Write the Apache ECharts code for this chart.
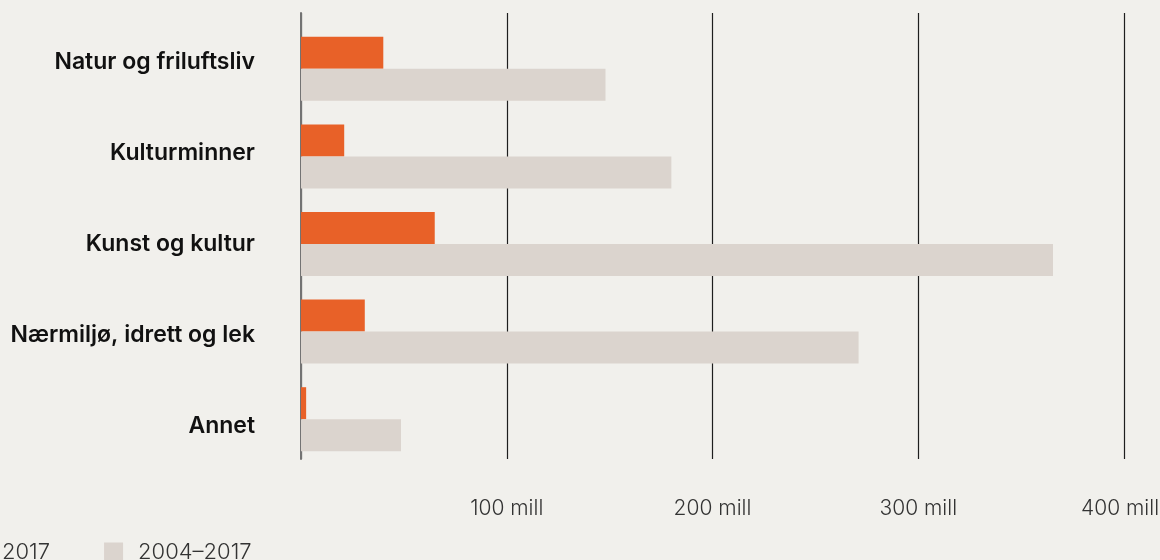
<!DOCTYPE html>
<html>
<head>
<meta charset="utf-8">
<script src="https://cdn.jsdelivr.net/npm/echarts@6/dist/echarts.min.js"></script>
<style>
html,body{margin:0;padding:0;background:#F1F0EC;}
#chart{width:1160px;height:560px;}
</style>
</head>
<body>
<div id="chart"></div>
<script>
// Data
const categories = ['Natur og friluftsliv', 'Kulturminner', 'Kunst og kultur', 'Nærmiljø, idrett og lek', 'Annet'];
const seriesNames = ['2017', '2004–2017'];
const values2017 = [40, 21, 65, 31, 2.5];
const values2004to2017 = [148, 180, 365.5, 271, 48.6];
const tickUnit = ' mill';
const axisMax = 400;

const chart = echarts.init(document.getElementById('chart'), null, {renderer: 'canvas'});
const labelFont = {fontFamily: 'Inter', fontWeight: 300, fontSize: 21, color: '#333'};
const option = {
  backgroundColor: '#F1F0EC',
  animation: false,
  legend: {
    left: -37,
    top: 536,
    itemWidth: 19,
    itemHeight: 19,
    itemGap: 54,
    icon: 'rect',
    data: seriesNames,
    textStyle: {fontFamily: 'Inter', fontWeight: 300, fontSize: 22, lineHeight: 22, color: '#333', padding: [0, 0, 0, 10]}
  },
  grid: [
    {left: 301, right: 36, top: 13, bottom: 101, outerBoundsMode: 'none', containLabel: false},
    {left: 301, right: 36, top: 25, bottom: 97, outerBoundsMode: 'none', containLabel: false},
    {left: 301, right: 36, top: 17, bottom: 89, outerBoundsMode: 'none', containLabel: false}
  ],
  xAxis: [
    {
      gridIndex: 0, type: 'value', min: 0, max: axisMax, interval: 100,
      axisLine: {show: false}, axisTick: {show: false},
      splitLine: {show: true, lineStyle: {color: '#1e1e1e', width: 1.2}},
      axisLabel: Object.assign({
        margin: 39,
        formatter: v => v === 0 ? '' : (v === axisMax ? '{last|' + v + tickUnit + '}' : v + tickUnit),
        rich: {last: Object.assign({padding: [0, 8, 0, 0]}, labelFont)}
      }, labelFont)
    },
    {gridIndex: 1, type: 'value', min: 0, max: axisMax, show: false},
    {gridIndex: 2, type: 'value', min: 0, max: axisMax, show: false}
  ],
  yAxis: [
    {
      gridIndex: 0, type: 'value', min: 0, max: 1,
      axisLine: {show: true, lineStyle: {color: '#737373', width: 2}},
      axisTick: {show: false}, axisLabel: {show: false}, splitLine: {show: false}
    },
    {gridIndex: 1, type: 'category', inverse: true, data: categories, show: false},
    {
      gridIndex: 2, type: 'category', inverse: true, data: categories,
      axisLine: {show: false}, axisTick: {show: false},
      axisLabel: {margin: 46, fontFamily: 'Inter', fontWeight: 600, fontSize: 23, color: '#111'}
    }
  ],
  series: [
    {
      name: seriesNames[0], type: 'bar', xAxisIndex: 1, yAxisIndex: 1,
      data: values2017, barWidth: 32, barGap: '0%',
      itemStyle: {color: '#E86128'}
    },
    {
      name: seriesNames[1], type: 'bar', xAxisIndex: 1, yAxisIndex: 1,
      data: values2004to2017, barWidth: 32, barGap: '0%',
      itemStyle: {color: '#DBD4CE'}
    }
  ]
};
chart.setOption(option);
</script>
</body>
</html>
